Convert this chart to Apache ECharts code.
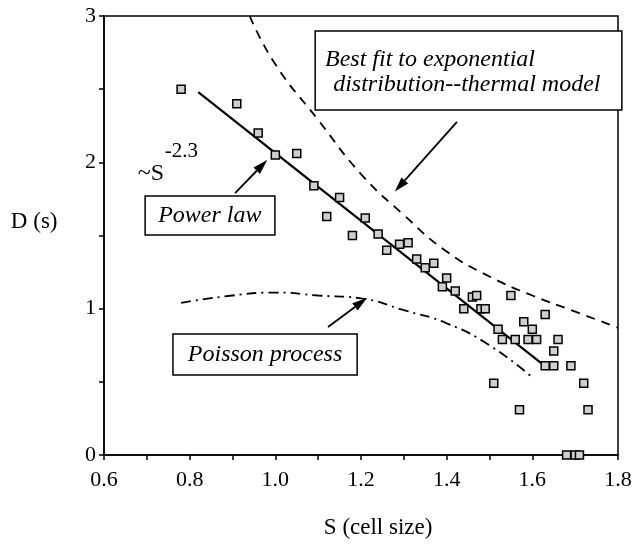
<!DOCTYPE html>
<html><head><meta charset="utf-8">
<script src="https://cdn.jsdelivr.net/npm/echarts/dist/echarts.min.js"></script>
<style>html,body{margin:0;padding:0;background:#fff}#c{width:639px;height:550px}</style>
</head><body><div id="c"></div>
<script>
// Observed points
const cellSize = [0.78,0.91,0.96,1.00,1.05,1.09,1.15,1.12,1.21,1.18,1.24,1.26,1.29,1.31,1.33,1.35,1.37,1.40,1.39,1.42,1.46,1.47,1.44,1.48,1.49,1.55,1.63,1.52,1.53,1.56,1.58,1.60,1.59,1.61,1.66,1.65,1.63,1.65,1.69,1.51,1.57,1.72,1.73,1.68,1.70,1.71];
const density  = [2.50,2.40,2.20,2.05,2.06,1.84,1.76,1.63,1.62,1.50,1.51,1.40,1.44,1.45,1.34,1.28,1.31,1.21,1.15,1.12,1.08,1.09,1.00,1.00,1.00,1.09,0.96,0.86,0.79,0.79,0.91,0.86,0.79,0.79,0.79,0.71,0.61,0.61,0.61,0.49,0.31,0.49,0.31,0.00,0.00,0.00];
// Power law fit line
const powerLawS = [0.82, 1.62];
const powerLawD = [2.48, 0.63];
// Best fit to exponential distribution (thermal model)
const expFitS = [0.94, 1.00, 1.10, 1.20, 1.30, 1.40, 1.50, 1.60, 1.70, 1.80];
const expFitD = [3.00, 2.67, 2.29, 1.92, 1.64, 1.39, 1.22, 1.09, 0.98, 0.87];
// Poisson process
const poissonS = [0.78, 0.90, 1.00, 1.10, 1.20, 1.30, 1.40, 1.50, 1.60];
const poissonD = [1.04, 1.09, 1.11, 1.09, 1.07, 0.99, 0.90, 0.75, 0.53];
// Tick labels
const xTicks = [0.6, 0.8, 1.0, 1.2, 1.4, 1.6, 1.8];
const yTicks = [0, 1, 2, 3];

const ink = '#000';
const serif = '"Liberation Serif", "Times New Roman", serif';
const zip = (a, b) => a.map((v, i) => [v, b[i]]);

const chart = echarts.init(document.getElementById('c'), null, {renderer: 'canvas'});
chart.setOption({
  animation: false,
  backgroundColor: '#fff',
  grid: {left: 104, right: 21, top: 16, bottom: 95, show: true, borderColor: ink, borderWidth: 1.5, backgroundColor: 'transparent'},
  xAxis: {
    type: 'value', min: 0.6, max: 1.8, interval: 0.1,
    axisLine: {lineStyle: {color: ink, width: 1.5}},
    axisTick: {length: 5, lineStyle: {color: ink, width: 1.5}},
    splitLine: {show: false},
    axisLabel: {margin: 14, color: ink, fontFamily: serif, fontSize: 22,
      formatter: v => xTicks.some(t => Math.abs(t - v) < 1e-6) ? v.toFixed(1) : ''}
  },
  yAxis: {
    type: 'value', min: 0, max: 3, interval: 0.5,
    axisLine: {lineStyle: {color: ink, width: 1.5}},
    axisTick: {length: 5, lineStyle: {color: ink, width: 1.5}},
    splitLine: {show: false},
    axisLabel: {margin: 8, color: ink, fontFamily: serif, fontSize: 22,
      formatter: v => yTicks.some(t => Math.abs(t - v) < 1e-6) ? String(Math.round(v)) : ''}
  },
  series: [
    {type: 'line', data: zip(expFitS, expFitD), smooth: true, showSymbol: false,
     lineStyle: {color: ink, width: 1.8, type: [9, 7]}},
    {type: 'line', data: zip(poissonS, poissonD), smooth: true, showSymbol: false,
     lineStyle: {color: ink, width: 1.8, type: [10, 5, 2, 5]}},
    {type: 'line', data: zip(powerLawS, powerLawD), showSymbol: false,
     lineStyle: {color: ink, width: 2.2}},
    {type: 'scatter', data: zip(cellSize, density), symbol: 'rect', symbolSize: 8,
     itemStyle: {color: '#cfcfcf', borderColor: ink, borderWidth: 1.5, opacity: 1}, z: 5}
  ]
});

// Annotations, placed in data coordinates
const px = (x, y) => chart.convertToPixel({gridIndex: 0}, [x, y]);
const italic = 'italic 24px ' + serif;
function box(x0, y0, x1, y1) {
  const a = px(x0, y0), b = px(x1, y1);
  return {type: 'rect', z: 20, shape: {x: a[0], y: a[1], width: b[0] - a[0], height: b[1] - a[1]},
    style: {fill: '#fff', stroke: ink, lineWidth: 1.5}};
}
function text(str, x, y, font, align, valign) {
  const p = px(x, y);
  return {type: 'text', z: 21, x: p[0], y: p[1],
    style: {text: str, font: font, fill: ink, textAlign: align || 'left', textVerticalAlign: valign || 'middle'}};
}
function arrow(x0, y0, x1, y1) {
  const a = px(x0, y0), b = px(x1, y1);
  const dx = b[0] - a[0], dy = b[1] - a[1], L = Math.hypot(dx, dy);
  const ux = dx / L, uy = dy / L, hl = 15, hw = 4.5;
  const base = [b[0] - ux * hl, b[1] - uy * hl];
  return [
    {type: 'line', z: 22, shape: {x1: a[0], y1: a[1], x2: base[0], y2: base[1]}, style: {stroke: ink, lineWidth: 1.8}},
    {type: 'polygon', z: 22, shape: {points: [b, [base[0] - uy * hw, base[1] + ux * hw], [base[0] + uy * hw, base[1] - ux * hw]]},
     style: {fill: ink}}
  ];
}
const axisNameFont = '23px ' + serif;
const g = [
  box(1.093, 2.898, 1.809, 2.358),
  text('Best fit to exponential', 1.116, 2.70, italic),
  text('distribution--thermal model', 1.135, 2.53, italic),
  ...arrow(1.424, 2.276, 1.279, 1.80),
  text('~S', 0.679, 1.84, '24px ' + serif, 'left', 'bottom'),
  text('-2.3', 0.742, 2.00, '21px ' + serif, 'left', 'bottom'),
  box(0.696, 1.770, 0.999, 1.504),
  text('Power law', 0.847, 1.634, italic, 'center'),
  ...arrow(0.906, 1.79, 0.981, 2.016),
  box(0.761, 0.827, 1.191, 0.547),
  text('Poisson process', 0.976, 0.684, italic, 'center'),
  ...arrow(1.123, 0.875, 1.214, 1.073),
  text('D (s)', 0.437, 1.59, axisNameFont, 'center'),
  text('S (cell size)', 1.24, -0.50, axisNameFont, 'center')
];
chart.setOption({graphic: g});
</script>
</body></html>
